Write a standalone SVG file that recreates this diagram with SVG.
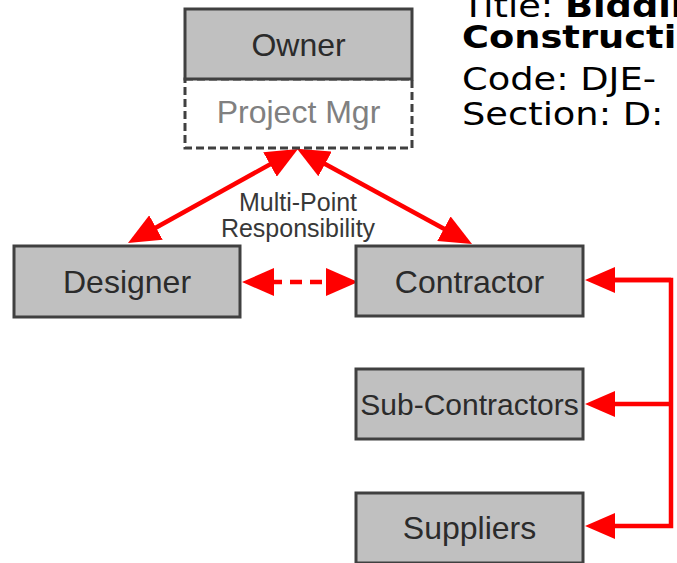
<svg xmlns="http://www.w3.org/2000/svg" width="677" height="563" viewBox="0 0 677 563">
<style>
  .box { fill: #c0c0c0; stroke: #404040; stroke-width: 3; }
  .lbl { font-family: "Liberation Sans", Arial, sans-serif; font-size: 32px; fill: #2b2b2b; text-anchor: middle; }
  .pm { fill: #ffffff; stroke: #404040; stroke-width: 3; stroke-dasharray: 8 4; }
  .red { stroke: #ff0000; stroke-width: 4.5; fill: none; }
  .note { font-family: "Liberation Sans", Arial, sans-serif; font-size: 25px; fill: #383838; text-anchor: middle; }
  .title { font-family: "DejaVu Sans", Verdana, sans-serif; font-size: 32px; fill: #000000; }
</style>
<defs>
  <marker id="ah" markerUnits="userSpaceOnUse" markerWidth="32" markerHeight="28" refX="24" refY="14" orient="auto-start-reverse">
    <path d="M0,0 L32,14 L0,28 z" fill="#ff0000"/>
  </marker>
  <marker id="ah2" markerUnits="userSpaceOnUse" markerWidth="30" markerHeight="26" refX="22" refY="13" orient="auto-start-reverse">
    <path d="M0,0 L30,13 L0,26 z" fill="#ff0000"/>
  </marker>
</defs>
<rect width="677" height="563" fill="#ffffff"/>

<g id="title-block" transform="translate(462,0) scale(1.15,1)">
  <text class="title" x="0" y="17">Title: <tspan font-weight="bold">Bidding</tspan></text>
  <text class="title" x="0" y="48" font-weight="bold">Construction</text>
  <text class="title" x="0" y="90">Code: DJE-</text>
  <text class="title" x="0" y="125">Section: D:</text>
</g>

<g id="connectors">
  <line class="red" x1="304" y1="152.5" x2="465" y2="240.2" marker-start="url(#ah)" marker-end="url(#ah)"/>
  <line class="red" x1="291" y1="152.8" x2="135" y2="239.2" marker-start="url(#ah)" marker-end="url(#ah)"/>
  <line class="red" x1="250" y1="282" x2="350" y2="282" stroke-dasharray="12 8" marker-start="url(#ah)" marker-end="url(#ah)"/>
  <polyline class="red" points="593,280 671,280 671,526 593,526" marker-end="url(#ah2)"/>
  <line class="red" x1="671" y1="280" x2="593" y2="280" marker-end="url(#ah2)"/>
  <line class="red" x1="671" y1="404" x2="593" y2="404" marker-end="url(#ah2)"/>
</g>

<g id="owner">
  <rect class="pm" x="185" y="79" width="227" height="69"/>
  <rect class="box" x="185" y="9" width="227" height="70"/>
  <text class="lbl" x="298.5" y="56">Owner</text>
  <text class="lbl" x="298.5" y="123" style="fill:#808080">Project Mgr</text>
</g>

<g id="note">
  <text class="note" x="298" y="211">Multi-Point</text>
  <text class="note" x="298" y="237">Responsibility</text>
</g>

<g id="designer">
  <rect class="box" x="14" y="246" width="226" height="71"/>
  <text class="lbl" x="127" y="293">Designer</text>
</g>

<g id="contractor">
  <rect class="box" x="356" y="246" width="227" height="70"/>
  <text class="lbl" x="469.5" y="293">Contractor</text>
</g>

<g id="subcontractors">
  <rect class="box" x="356" y="369" width="227" height="70"/>
  <text class="lbl" x="469.5" y="415" style="font-size:30px">Sub-Contractors</text>
</g>

<g id="suppliers">
  <rect class="box" x="356" y="493" width="227" height="70"/>
  <text class="lbl" x="469.5" y="539">Suppliers</text>
</g>
</svg>
